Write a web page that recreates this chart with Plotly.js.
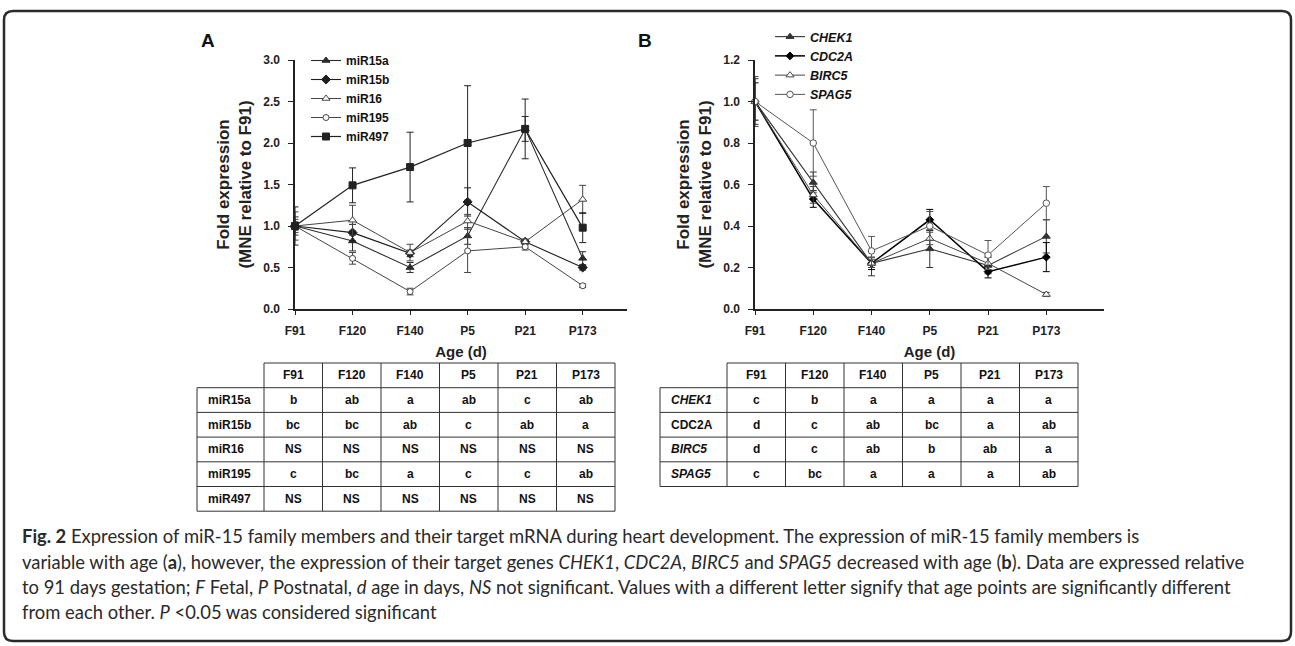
<!DOCTYPE html>
<html>
<head>
<meta charset="utf-8">
<script src="https://cdn.plot.ly/plotly-3.0.1.min.js"></script>
<style>html,body{margin:0;padding:0;background:#fff;}#chart{width:1295px;height:646px;}</style>
</head>
<body>
<div id="chart"></div>
<script>
// ---------- data ----------
const ages = ['F91','F120','F140','P5','P21','P173'];

// Panel A: miR-15 family (fold expression, MNE relative to F91)
const miR15a     = [1.00, 0.82, 0.50, 0.88, 2.17, 0.61];
const miR15a_err = [0.11, 0.12, 0.06, 0.10, 0.15, 0.08];
const miR15b     = [1.00, 0.92, 0.67, 1.29, 0.81, 0.50];
const miR15b_err = [0.05, 0.10, 0.04, 0.17, 0.03, 0.03];
const miR16      = [1.00, 1.07, 0.68, 1.06, 0.81, 1.32];
const miR16_err  = [0.17, 0.18, 0.10, 0.08, 0.03, 0.17];
const miR195     = [1.00, 0.61, 0.21, 0.70, 0.75, 0.28];
const miR195_err = [0.08, 0.07, 0.04, 0.26, 0.04, 0.02];
const miR497     = [1.00, 1.49, 1.71, 2.00, 2.17, 0.98];
const miR497_err = [0.23, 0.21, 0.42, 0.69, 0.36, 0.18];

// Panel B: target genes
const CHEK1      = [1.00, 0.61, 0.22, 0.29, 0.21, 0.35];
const CHEK1_err  = [0.11, 0.05, 0.06, 0.09, 0.04, 0.08];
const CDC2A      = [1.00, 0.53, 0.22, 0.43, 0.18, 0.25];
const CDC2A_err  = [0.09, 0.04, 0.03, 0.05, 0.03, 0.07];
const BIRC5      = [1.00, 0.55, 0.22, 0.34, 0.22, 0.07];
const BIRC5_err  = [0.12, 0.04, 0.02, 0.03, 0.03, 0.01];
const SPAG5      = [1.00, 0.80, 0.28, 0.40, 0.26, 0.51];
const SPAG5_err  = [0.00, 0.16, 0.07, 0.07, 0.07, 0.08];

// Significance letter tables
const tableA_rows = ['miR15a','miR15b','miR16','miR195','miR497'];
const tableA_letters = [
  ['b','ab','a','ab','c','ab'],
  ['bc','bc','ab','c','ab','a'],
  ['NS','NS','NS','NS','NS','NS'],
  ['c','bc','a','c','c','ab'],
  ['NS','NS','NS','NS','NS','NS']
];
const tableB_rows = ['CHEK1','CDC2A','BIRC5','SPAG5'];
const tableB_letters = [
  ['c','b','a','a','a','a'],
  ['d','c','ab','bc','a','ab'],
  ['d','c','ab','b','ab','a'],
  ['c','bc','a','a','a','ab']
];

const captionLines = [
  '<b>Fig. 2</b> Expression of miR-15 family members and their target mRNA during heart development. The expression of miR-15 family members is',
  'variable with age (<b>a</b>), however, the expression of their target genes <i>CHEK1</i>, <i>CDC2A</i>, <i>BIRC5</i> and <i>SPAG5</i> decreased with age (<b>b</b>). Data are expressed relative',
  'to 91 days gestation; <i>F</i> Fetal, <i>P</i> Postnatal, <i>d</i> age in days, <i>NS</i> not significant. Values with a different letter signify that age points are significantly different',
  'from each other. <i>P</i> &lt;0.05 was considered significant'
];

// ---------- layout helpers ----------
const W = 1295, H = 646;
const px = x => x / W;
const py = y => 1 - y / H;
const FONT = 'Liberation Sans, Arial, sans-serif';
const INK = '#222';

function series(name, y, err, symbol, filled, color, width, xa, ya, leg, msize) {
  return {
    type: 'scatter', mode: 'lines+markers', name: name,
    x: ages, y: y,
    xaxis: xa, yaxis: ya, legend: leg,
    line: {color: color, width: width},
    marker: {symbol: symbol, size: msize || 7, color: filled ? color : '#fff',
             line: {color: color, width: 1}},
    error_y: {type: 'data', array: err, visible: true, color: color, thickness: 1, width: 3.5},
    cliponaxis: false
  };
}

const data = [
  series('miR15a', miR15a, miR15a_err, 'triangle-up', true, '#2b2b2b', 1.1, 'x', 'y', 'legend', 7),
  series('miR15b', miR15b, miR15b_err, 'diamond', true, '#1e1e1e', 1.1, 'x', 'y', 'legend', 7),
  series('miR16', miR16, miR16_err, 'triangle-up', false, '#444', 1.0, 'x', 'y', 'legend', 7),
  series('miR195', miR195, miR195_err, 'circle', false, '#444', 1.0, 'x', 'y', 'legend', 6),
  series('miR497', miR497, miR497_err, 'square', true, '#222', 1.2, 'x', 'y', 'legend', 7),
  series('CHEK1', CHEK1, CHEK1_err, 'triangle-up', true, '#333', 1.1, 'x2', 'y2', 'legend2', 7),
  series('CDC2A', CDC2A, CDC2A_err, 'diamond', true, '#000', 1.5, 'x2', 'y2', 'legend2', 6),
  series('BIRC5', BIRC5, BIRC5_err, 'triangle-up', false, '#444', 1.0, 'x2', 'y2', 'legend2', 7),
  series('SPAG5', SPAG5, SPAG5_err, 'circle', false, '#555', 1.0, 'x2', 'y2', 'legend2', 6.5)
];

const tickFont = {family: FONT, size: 12, color: INK, weight: 'bold'};
const titleFont = {family: FONT, size: 17, color: INK, weight: 'bold'};
const xTitleFont = {family: FONT, size: 15, color: INK, weight: 'bold'};

function xAxis(domain, range) {
  return {
    domain: domain, type: 'category', range: range,
    showline: true, linecolor: INK, linewidth: 1.6,
    ticks: 'outside', ticklen: 4, tickwidth: 1, tickcolor: INK,
    tickfont: tickFont, ticklabelstandoff: 6,
    showgrid: false, zeroline: false, fixedrange: true,
    title: {text: 'Age (d)', font: xTitleFont, standoff: 9}
  };
}
function yAxis(domain, range, dtick, anchor) {
  return {
    domain: domain, range: range, dtick: dtick, tick0: 0, tickformat: '.1f',
    anchor: anchor,
    showline: true, linecolor: INK, linewidth: 1.6,
    ticks: 'outside', ticklen: 5, tickwidth: 1, tickcolor: INK,
    tickfont: tickFont, ticklabelstandoff: 6,
    showgrid: false, zeroline: false, fixedrange: true,
    title: {text: 'Fold expression<br>(MNE relative to F91)', font: titleFont, standoff: 7}
  };
}

const yDom = [py(309), py(60)];

// ---------- tables ----------
const shapes = [];
const annotations = [];

function hline(x0, x1, y) {
  shapes.push({type: 'line', xref: 'paper', yref: 'paper', x0: px(x0), x1: px(x1), y0: py(y), y1: py(y),
               line: {color: '#333', width: 1}});
}
function vline(x, y0, y1) {
  shapes.push({type: 'line', xref: 'paper', yref: 'paper', x0: px(x), x1: px(x), y0: py(y0), y1: py(y1),
               line: {color: '#333', width: 1}});
}
function text(t, x, y, opts) {
  annotations.push(Object.assign({
    text: t, xref: 'paper', yref: 'paper', x: px(x), y: py(y),
    showarrow: false, xanchor: 'center', yanchor: 'middle',
    font: {family: FONT, size: 12, color: '#111', weight: 'bold'}
  }, opts || {}));
}

function drawTable(left, firstColRight, colW, top, rowH, rows, letters, italicRows) {
  const nCols = ages.length;
  const right = firstColRight + colW * nCols;
  const bottom = top + rowH * (rows.length + 1);
  hline(firstColRight, right, top);
  for (let r = 1; r <= rows.length + 1; r++) hline(left, right, top + rowH * r);
  vline(left, top + rowH, bottom);
  for (let c = 0; c <= nCols; c++) vline(firstColRight + colW * c, top, bottom);
  ages.forEach((a, c) => text(a, firstColRight + colW * (c + 0.5), top + rowH * 0.5));
  rows.forEach((name, r) => {
    const label = italicRows && italicRows[r] ? '<i>' + name + '</i>' : name;
    text(label, left + 9, top + rowH * (r + 1.5), {xanchor: 'left'});
    letters[r].forEach((l, c) => text(l, firstColRight + colW * (c + 0.5), top + rowH * (r + 1.5)));
  });
}

drawTable(197, 264, 58.5, 363, 24.7, tableA_rows, tableA_letters, null);
drawTable(660, 727, 58.5, 363, 24.7, tableB_rows, tableB_letters, [true, false, true, true]);

// panel letters
text('A', 208, 40, {font: {family: FONT, size: 19, color: '#111', weight: 'bold'}});
text('B', 645, 40, {font: {family: FONT, size: 19, color: '#111', weight: 'bold'}});

// caption
const capY = [536, 561.5, 587, 612];
captionLines.forEach((t, i) => text(t, 20, capY[i], {
  xanchor: 'left', font: {family: 'Lato, Liberation Sans, sans-serif', size: 18.4, color: '#2a2a2a', weight: 'normal'}
}));

// rounded frame
(function () {
  const x0 = 4, y0 = 11, x1 = 1291, y1 = 641, r = 9;
  const p = (x, y) => px(x) + ',' + py(y);
  const path = 'M' + p(x0 + r, y0) + ' L' + p(x1 - r, y0) + ' Q' + p(x1, y0) + ' ' + p(x1, y0 + r) +
    ' L' + p(x1, y1 - r) + ' Q' + p(x1, y1) + ' ' + p(x1 - r, y1) +
    ' L' + p(x0 + r, y1) + ' Q' + p(x0, y1) + ' ' + p(x0, y1 - r) +
    ' L' + p(x0, y0 + r) + ' Q' + p(x0, y0) + ' ' + p(x0 + r, y0) + ' Z';
  shapes.push({type: 'path', xref: 'paper', yref: 'paper', path: path, line: {color: '#2a2a2a', width: 2.5}});
})();

const layout = {
  width: W, height: H,
  margin: {l: 0, r: 0, t: 0, b: 0},
  paper_bgcolor: '#fff', plot_bgcolor: 'rgba(0,0,0,0)',
  font: {family: FONT, color: INK},
  showlegend: true,
  xaxis: xAxis([px(295), px(627)], [0, 5.77]),
  yaxis: yAxis(yDom, [0, 3.0], 0.5, 'x'),
  xaxis2: xAxis([px(755), px(1104)], [0, 5.99]),
  yaxis2: yAxis(yDom, [0, 1.2], 0.2, 'x2'),
  legend: {x: px(306), y: py(46), xanchor: 'left', yanchor: 'top', bgcolor: 'rgba(0,0,0,0)',
           font: {family: FONT, size: 12, color: '#111', weight: 'bold'}, itemwidth: 30, tracegroupgap: 0},
  legend2: {x: px(770), y: py(22), xanchor: 'left', yanchor: 'top', bgcolor: 'rgba(0,0,0,0)',
            font: {family: FONT, size: 12.5, color: '#111', weight: 'bold', style: 'italic'}, itemwidth: 30, tracegroupgap: 0},
  shapes: shapes,
  annotations: annotations
};
layout.xaxis.anchor = 'y';
layout.xaxis2.anchor = 'y2';

Plotly.newPlot('chart', data, layout, {staticPlot: true, displayModeBar: false});
</script>
</body>
</html>
